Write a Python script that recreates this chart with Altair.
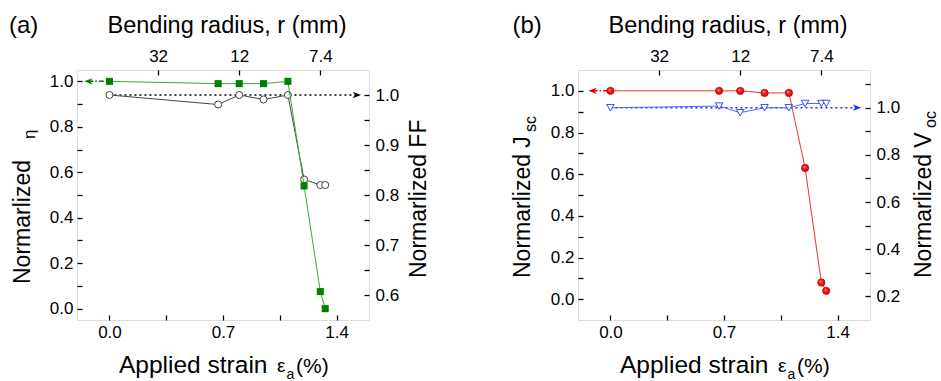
import altair as alt
import pandas as pd

FONT = "Liberation Sans"

# ---------------- data ----------------
strain = [0.0, 0.67, 0.8, 0.95, 1.1, 1.2, 1.3, 1.33]
eta = [1.0, 0.99, 0.99, 0.99, 1.0, 0.54, 0.075, 0.0]
ff = [1.0, 0.981, 1.0, 0.991, 1.0, 0.831, 0.82, 0.82]
jsc = [1.0, 1.0, 1.0, 0.99, 0.99, 0.63, 0.08, 0.04]
voc = [1.0, 1.007, 0.979, 1.0, 1.0, 1.018, 1.018, 1.018]

# guide arrows (x from, x to, level)
eta_arrow_x = [-0.13, 0.0]
eta_arrow_y = [1.0, 1.0]
ff_arrow_x = [0.0, 1.525]
ff_arrow_y = [1.0, 1.0]
jsc_arrow_x = [-0.11, 0.0]
jsc_arrow_y = [1.0, 1.0]
voc_arrow_x = [0.0, 1.52]
voc_arrow_y = [1.0, 1.0]

# axis ticks / labels
x_ticks = [0.0, 0.35, 0.7, 1.05, 1.4]
x_labels = [0.0, 0.7, 1.4]
bend_strain = [0.3, 0.8, 1.3]
bend_radius = ["32", "12", "7.4"]
eta_ticks = [0.0, 0.1, 0.2, 0.3, 0.4, 0.5, 0.6, 0.7, 0.8, 0.9, 1.0]
ff_ticks = [0.6, 0.65, 0.7, 0.75, 0.8, 0.85, 0.9, 0.95, 1.0]
jsc_ticks = [0.0, 0.1, 0.2, 0.3, 0.4, 0.5, 0.6, 0.7, 0.8, 0.9, 1.0]
voc_ticks = [0.2, 0.3, 0.4, 0.5, 0.6, 0.7, 0.8, 0.9, 1.0, 1.1]

X_DOMAIN = [-0.2, 1.6]
ETA_DOMAIN = [-0.05, 1.05]
FF_DOMAIN = [0.55, 1.05]
JSC_DOMAIN = [-0.1, 1.1]
VOC_DOMAIN = [0.1, 1.16]

W, H = 292, 250
TICK = 5
LABEL_SIZE = 17

LEFT_ARROW = "M -1 0 L 1 -0.75 L 0.45 0 L 1 0.75 Z"
RIGHT_ARROW = "M 1 0 L -1 -0.75 L -0.45 0 L -1 0.75 Z"

bottom_expr = "indexof([0, 0.7, 1.4], datum.value) >= 0 ? format(datum.value, '.1f') : ''"
top_expr = ("datum.value == %s ? '%s' : datum.value == %s ? '%s' : '%s'"
            % (bend_strain[0], bend_radius[0], bend_strain[1], bend_radius[1], bend_radius[2]))
even_tenth = "round(datum.value * 10) % 2 == 0 ? format(datum.value, '.1f') : ''"
tenth_of_twenty = "round(datum.value * 100) % 10 == 0 ? format(datum.value, '.1f') : ''"


def axis(orient, values, expr, pad):
    return alt.Axis(orient=orient, values=values, labelExpr=expr, offset=-TICK,
                    tickSize=TICK, tickWidth=1.3, tickColor="black",
                    labelPadding=pad, labelFont=FONT, labelFontSize=LABEL_SIZE,
                    labelColor="black", domain=False, grid=False, title=None)


def xs(orient):
    if orient == "bottom":
        ax = axis("bottom", x_ticks, bottom_expr, 4)
    else:
        ax = axis("top", bend_strain, top_expr, 5)
    return alt.X("x:Q", scale=alt.Scale(domain=X_DOMAIN, nice=False, zero=False), axis=ax)


def ys(domain, orient, values, expr, pad):
    return alt.Y("y:Q", scale=alt.Scale(domain=domain, nice=False, zero=False),
                 axis=axis(orient, values, expr, pad))


def series_group(xv, yv, arrow_x, arrow_y, head, dash, arrow_color,
                 point_mark, xenc, yenc, series_line_color):
    df = pd.DataFrame({"x": xv, "y": yv})
    adf = pd.DataFrame({"x": arrow_x, "y": arrow_y})
    hx = arrow_x[0] if head == "left" else arrow_x[-1]
    hdf = pd.DataFrame({"x": [hx], "y": [arrow_y[0]]})
    arrow_line = alt.Chart(adf).mark_line(color=arrow_color, strokeWidth=1.5,
                                          strokeDash=dash).encode(x=xenc, y=yenc)
    arrow_head = alt.Chart(hdf).mark_point(
        shape=LEFT_ARROW if head == "left" else RIGHT_ARROW, filled=True,
        color=arrow_color, size=70, opacity=1).encode(x=xenc, y=yenc)
    line = alt.Chart(df).mark_line(color=series_line_color, strokeWidth=1).encode(x=xenc, y=yenc)
    pts = alt.Chart(df).mark_point(**point_mark).encode(x=xenc, y=yenc)
    return [arrow_line, arrow_head, line, pts]


def txt(s, x, y, size, angle=0, align="left"):
    return alt.Chart(pd.DataFrame({"t": [s]})).mark_text(
        font=FONT, fontSize=size, angle=angle, align=align, baseline="alphabetic",
        color="black").encode(x=alt.value(x), y=alt.value(y), text="t:N")


def bottom_title():
    return [
        txt("Applied strain", 42, 303, 24.5),
        txt("ε", 200, 302, 19),
        txt("a", 209.5, 309, 14),
        txt("(%)", 219, 303, 21),
    ]


# ---------------- panel (a) ----------------
xa_b, xa_t = xs("bottom"), xs("top")
y_eta = ys(ETA_DOMAIN, "left", eta_ticks, even_tenth, 4)
y_ff = ys(FF_DOMAIN, "right", ff_ticks, tenth_of_twenty, 6)

ff_layers = series_group(
    strain, ff, ff_arrow_x, ff_arrow_y, "right", [2, 3], "black",
    dict(shape="circle", filled=True, fill="white", stroke="#444444", strokeWidth=1,
         size=50, opacity=1),
    xa_t, y_ff, "#444444")
eta_layers = series_group(
    strain, eta, eta_arrow_x, eta_arrow_y, "left", [5, 2, 1.5, 2], "#008000",
    dict(shape="square", filled=True, color="#008000", size=50, opacity=1),
    xa_b, y_eta, "#3aa83a")

panel_a = alt.layer(
    alt.layer(*ff_layers), alt.layer(*eta_layers),
    txt("(a)", -68, -37.5, 24),
    txt("Bending radius, r (mm)", 150, -37, 23.5, align="center"),
    txt("Normarlized", -47, 214, 23, angle=270),
    txt("η", -42, 69, 17, angle=270),
    txt("Normarlized FF", 349, 208, 23, angle=270),
    *bottom_title(),
).resolve_scale(y="independent").resolve_axis(x="independent", y="independent").properties(
    width=W, height=H)

# ---------------- panel (b) ----------------
xb_b, xb_t = xs("bottom"), xs("top")
y_jsc = ys(JSC_DOMAIN, "left", jsc_ticks, even_tenth, 4)
y_voc = ys(VOC_DOMAIN, "right", voc_ticks, even_tenth, 6)

ball = {
    "gradient": "radial",
    "stops": [{"offset": 0, "color": "#ffd6d6"}, {"offset": 0.3, "color": "#ff2222"},
              {"offset": 1, "color": "#c40000"}],
    "x1": 0.38, "y1": 0.35, "r1": 0, "x2": 0.5, "y2": 0.5, "r2": 0.6,
}

voc_layers = series_group(
    strain, voc, voc_arrow_x, voc_arrow_y, "right", [2, 3], "#1a2cff",
    dict(shape="triangle-down", filled=True, fill="white", stroke="#3050ff", strokeWidth=1,
         size=55, opacity=1),
    xb_t, y_voc, "#4d6bff")
jsc_layers = series_group(
    strain, jsc, jsc_arrow_x, jsc_arrow_y, "left", [5, 2, 1.5, 2], "#ee0000",
    dict(shape="circle", filled=True, fill=ball, stroke="#b00000", strokeWidth=0.6,
         size=55, opacity=1),
    xb_b, y_jsc, "#f03030")

panel_b = alt.layer(
    alt.layer(*voc_layers), alt.layer(*jsc_layers),
    txt("(b)", -65.5, -37.5, 24),
    txt("Bending radius, r (mm)", 150, -37, 23.5, align="center"),
    txt("Normarlized J", -48.5, 208, 23, angle=270),
    txt("sc", -42, 62, 16, angle=270),
    txt("Normarlized V", 353, 208, 23, angle=270),
    txt("oc", 358, 58, 16, angle=270),
    *bottom_title(),
).resolve_scale(y="independent").resolve_axis(x="independent", y="independent").properties(
    width=W, height=H)

chart = alt.hconcat(panel_a, panel_b, spacing=209, bounds="flush").properties(
    padding={"left": 8, "top": 13, "right": 0, "bottom": 0}
).configure_view(stroke="black", strokeWidth=1.6).configure_axis(
    labelFont=FONT, labelFontSize=LABEL_SIZE, labelColor="black", tickColor="black",
    grid=False
).configure(background="white")

chart.save("out.html", embed_options={"renderer": "svg", "actions": False})
